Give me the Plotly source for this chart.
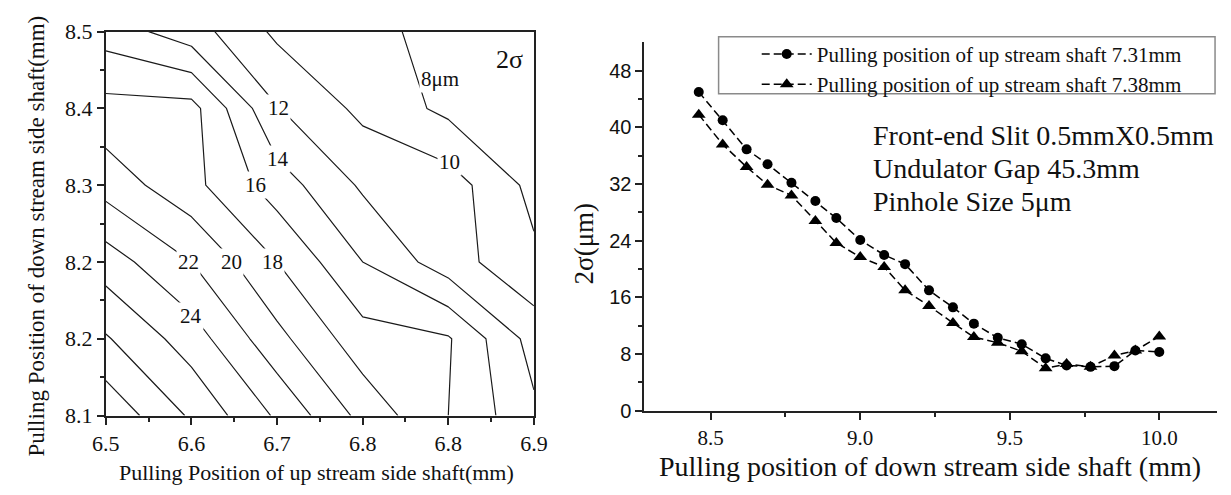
import plotly.graph_objects as go

# ---------------- data: left panel (contour of 2 sigma, um) ----------------
up_pos = [6.50, 6.58, 6.66, 6.74, 6.82, 6.90]        # up stream shaft (mm), x grid
down_pos = [8.10, 8.18, 8.26, 8.34, 8.42, 8.50]      # down stream shaft (mm), y grid
# rows follow down_pos (bottom -> top), columns follow up_pos
sigma_grid = [
    [31.5, 27.7, 23.7, 19.4, 16.0, 12.4],
    [28.2, 25.0, 20.6, 16.8, 16.2, 11.2],
    [25.0, 22.0, 18.0, 14.0, 10.9, 8.4],
    [21.2, 18.6, 15.0, 11.7, 11.0, 7.4],
    [18.7, 18.7, 12.1, 9.5, 7.5, 7.0],
    [15.1, 12.9, 9.6, 8.6, 7.3, 6.8],
]
left_xtick_vals = [6.50, 6.58, 6.66, 6.74, 6.82, 6.90]
left_xtick_text = ["6.5", "6.6", "6.7", "6.8", "6.8", "6.9"]
left_ytick_vals = [8.10, 8.18, 8.26, 8.34, 8.42, 8.50]
left_ytick_text = ["8.1", "8.2", "8.2", "8.3", "8.4", "8.5"]
contour_labels = ["8\u03bcm", "10", "12", "14", "16", "18", "20", "22", "24"]
label_x = [6.812, 6.821, 6.661, 6.661, 6.640, 6.656, 6.617, 6.577, 6.580]
label_y = [8.451, 8.364, 8.420, 8.367, 8.340, 8.260, 8.260, 8.260, 8.204]

# ---------------- data: right panel ----------------
down_shaft = [8.46, 8.54, 8.62, 8.69, 8.77, 8.85, 8.92, 9.00, 9.08, 9.15, 9.23,
              9.31, 9.38, 9.46, 9.54, 9.62, 9.69, 9.77, 9.85, 9.92, 10.00]
sigma_731 = [45.0, 41.0, 36.9, 34.8, 32.2, 29.6, 27.2, 24.1, 22.0, 20.7, 17.0,
             14.6, 12.3, 10.3, 9.4, 7.4, 6.4, 6.2, 6.3, 8.5, 8.3]
sigma_738 = [41.8, 37.6, 34.4, 31.9, 30.4, 26.8, 23.7, 21.7, 20.3, 17.0, 14.8,
             12.4, 10.4, 9.6, 8.4, 6.0, 6.6, 6.2, 7.8, 8.5, 10.5]
name_731 = "Pulling position of up stream shaft 7.31mm"
name_738 = "Pulling position of up stream shaft 7.38mm"
right_ytick_vals = [0, 8, 16, 24, 32, 40, 48]
right_xtick_vals = [8.5, 9.0, 9.5, 10.0]
right_xtick_text = ["8.5", "9.0", "9.5", "10.0"]
info_lines = ["Front-end Slit 0.5mmX0.5mm", "Undulator Gap 45.3mm", "Pinhole Size 5\u03bcm"]

W, H = 1231, 495
SERIF = "Liberation Serif"
SANS = "Liberation Sans"
AX = "#222222"
TXT = "#111111"

def px(x):
    return x / W

def py(y):
    return (H - y) / H

fig = go.Figure()

fig.add_trace(go.Contour(
    x=up_pos, y=down_pos, z=sigma_grid,
    contours=dict(start=8, end=30, size=2, coloring="lines", showlabels=False),
    colorscale=[[0, "#1a1a1a"], [1, "#1a1a1a"]],
    line=dict(width=1.2, smoothing=0),
    showscale=False, hoverinfo="skip", showlegend=False,
    xaxis="x", yaxis="y",
))

fig.add_trace(go.Scatter(
    x=down_shaft, y=sigma_731, name=name_731, mode="lines+markers",
    line=dict(color="black", width=1.5, dash="8px,4px"),
    marker=dict(symbol="circle", size=10, color="black"),
    xaxis="x2", yaxis="y2",
))
fig.add_trace(go.Scatter(
    x=down_shaft, y=sigma_738, name=name_738, mode="lines+markers",
    line=dict(color="black", width=1.5, dash="8px,4px"),
    marker=dict(symbol="triangle-up", size=12, color="black"),
    xaxis="x2", yaxis="y2",
))

annotations = []
for t, x, y in zip(contour_labels, label_x, label_y):
    annotations.append(dict(x=x, y=y, xref="x", yref="y", text=t, showarrow=False,
                            xanchor="center", yanchor="middle",
                            font=dict(family=SERIF, size=21, color=TXT),
                            bgcolor="white", borderpad=1))
annotations.append(dict(x=6.877, y=8.471, xref="x", yref="y", text="2\u03c3", showarrow=False,
                        xanchor="center", yanchor="middle",
                        font=dict(family=SERIF, size=26, color=TXT)))
for i, t in enumerate(info_lines):
    annotations.append(dict(x=px(877), y=py(130 + 35 * i), xref="paper", yref="paper",
                            xanchor="left", yanchor="middle", text=t, showarrow=False,
                            font=dict(family=SERIF, size=28, color=TXT)))
# axis titles
annotations.append(dict(x=px(310), y=py(485), xref="paper", yref="paper",
                        text="Pulling Position of up stream side shaft(mm)",
                        showarrow=False, xanchor="center", yanchor="middle",
                        font=dict(family=SERIF, size=22, color=TXT)))
annotations.append(dict(x=px(23), y=py(236), xref="paper", yref="paper",
                        text="Pulling Position of down stream side shaft(mm)",
                        showarrow=False, textangle=-90, xanchor="center", yanchor="middle",
                        font=dict(family=SERIF, size=23, color=TXT)))
annotations.append(dict(x=px(937), y=py(479), xref="paper", yref="paper",
                        text="Pulling position of down stream side shaft (mm)",
                        showarrow=False, xanchor="center", yanchor="middle",
                        font=dict(family=SERIF, size=28, color=TXT)))
annotations.append(dict(x=px(583), y=py(244), xref="paper", yref="paper", text="2\u03c3(\u03bcm)",
                        showarrow=False, textangle=-90, xanchor="center", yanchor="middle",
                        font=dict(family=SERIF, size=27, color=TXT)))

# legend frame (the legend itself is drawn by plotly inside it)
shapes = [dict(type="rect", xref="paper", yref="paper",
               x0=px(721), x1=px(1229), y0=py(86), y1=py(26),
               line=dict(color="#8a8a8a", width=1.5), fillcolor="white", layer="below")]

fig.update_layout(
    width=W, height=H, margin=dict(l=0, r=0, t=0, b=0),
    paper_bgcolor="white", plot_bgcolor="white",
    showlegend=True,
    legend=dict(x=px(760), y=py(23), xanchor="left", yanchor="top",
                borderwidth=0, bgcolor="rgba(0,0,0,0)",
                font=dict(family=SERIF, size=21, color=TXT), tracegroupgap=0,
                itemwidth=50),
    shapes=shapes,
    annotations=annotations,
    xaxis=dict(domain=[px(94), px(532)], range=[6.5, 6.9], anchor="y",
               showline=True, mirror=True, linecolor=AX, linewidth=2, showgrid=False, zeroline=False,
               ticks="outside", ticklen=7, tickwidth=1.5, tickcolor=AX,
               tickmode="array", tickvals=left_xtick_vals, ticktext=left_xtick_text,
               tickfont=dict(family=SERIF, size=22, color=TXT),
               minor=dict(tickmode="array", tickvals=[6.54, 6.62, 6.70, 6.78, 6.86],
                          ticks="outside", ticklen=4, tickcolor=AX, tickwidth=1.5)),
    yaxis=dict(domain=[py(425), py(20.7)], range=[8.1, 8.5], anchor="x",
               showline=True, mirror=True, linecolor=AX, linewidth=2, showgrid=False, zeroline=False,
               ticks="outside", ticklen=7, tickwidth=1.5, tickcolor=AX,
               tickmode="array", tickvals=left_ytick_vals, ticktext=left_ytick_text,
               tickfont=dict(family=SERIF, size=22, color=TXT),
               minor=dict(tickmode="array", tickvals=[8.14, 8.22, 8.30, 8.38, 8.46],
                          ticks="outside", ticklen=4, tickcolor=AX, tickwidth=1.5)),
    xaxis2=dict(domain=[px(645), 1.0], range=[8.278, 10.193], anchor="y2",
                showline=True, linecolor=AX, linewidth=1.8, showgrid=False, zeroline=False,
                ticks="outside", ticklen=7, tickwidth=1.5, tickcolor=AX,
                tickmode="array", tickvals=right_xtick_vals, ticktext=right_xtick_text,
                tickfont=dict(family=SERIF, size=21, color=TXT),
                minor=dict(tickmode="array", tickvals=[8.75, 9.25, 9.75],
                           ticks="outside", ticklen=4, tickcolor=AX, tickwidth=1.5)),
    yaxis2=dict(domain=[py(420), py(32)], range=[0, 52], anchor="x2",
                showline=True, linecolor=AX, linewidth=1.8, showgrid=False, zeroline=False,
                ticks="outside", ticklen=7, tickwidth=1.5, tickcolor=AX,
                tickmode="array", tickvals=right_ytick_vals,
                tickfont=dict(family=SANS, size=20, color=TXT),
                minor=dict(tickmode="array", tickvals=[4, 12, 20, 28, 36, 44],
                           ticks="outside", ticklen=4, tickcolor=AX, tickwidth=1.5)),
)

fig.write_html("out.html")
